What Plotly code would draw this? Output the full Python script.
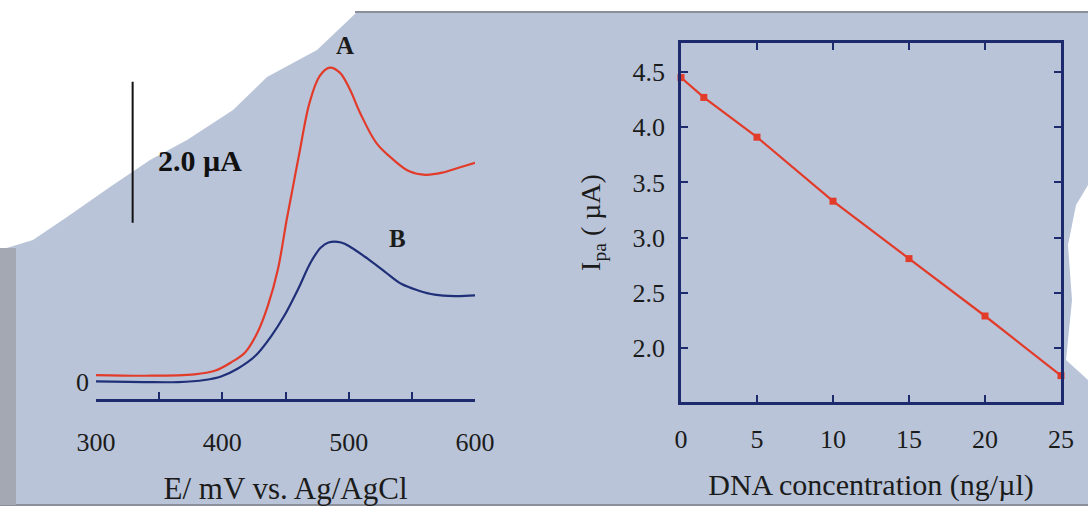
import plotly.graph_objects as go

# ---------------- data ----------------
# Left panel: differential pulse voltammograms
E_A = [300, 340, 378, 394, 407, 418, 428, 436, 444, 451, 456, 461, 469, 477, 485, 493, 501, 509, 522, 535, 548, 561, 574, 587, 600]
I_A = [0.34, 0.33, 0.35, 0.40, 0.52, 0.66, 0.95, 1.32, 1.84, 2.55, 3.02, 3.49, 4.20, 4.58, 4.70, 4.63, 4.39, 4.06, 3.63, 3.40, 3.23, 3.18, 3.21, 3.28, 3.35]
E_B = [300, 338, 365, 386, 399, 412, 426, 439, 449, 460, 470, 478, 484, 494, 502, 515, 529, 542, 555, 568, 584, 600]
I_B = [0.25, 0.24, 0.24, 0.27, 0.32, 0.43, 0.61, 0.90, 1.18, 1.56, 1.94, 2.15, 2.22, 2.22, 2.15, 1.99, 1.80, 1.63, 1.54, 1.48, 1.46, 1.47]

# Right panel: peak current vs DNA concentration
dna_conc = [0, 1.5, 5, 10, 15, 20, 25]
ipa = [4.45, 4.27, 3.91, 3.33, 2.81, 2.29, 1.75]

left_ticks = [300, 400, 500, 600]
right_xticks = [0, 5, 10, 15, 20, 25]

# ---------------- style ----------------
W, H = 1088, 518
FONT = "Liberation Serif"
TXT = "#1b1b1b"
NAVY = "#1d2b6e"
RED = "#e23b2a"
BLUE = "#1f2f78"
BG = "#b9c4d8"


def px(x):
    return x / W


def py(y):
    return 1 - y / H


def path_from(points):
    return "M " + " L ".join(f"{px(a):.4f},{py(b):.4f}" for a, b in points) + " Z"


fig = go.Figure()

fig.add_trace(go.Scatter(x=E_A, y=I_A, mode="lines", line=dict(color=RED, width=2.2, shape="spline"),
                         xaxis="x", yaxis="y", showlegend=False, name="A"))
fig.add_trace(go.Scatter(x=E_B, y=I_B, mode="lines", line=dict(color=BLUE, width=2.2, shape="spline"),
                         xaxis="x", yaxis="y", showlegend=False, name="B"))
fig.add_trace(go.Scatter(x=dna_conc, y=ipa, mode="lines+markers",
                         line=dict(color=RED, width=2.2),
                         marker=dict(color=RED, size=7, symbol="square"),
                         cliponaxis=False,
                         xaxis="x2", yaxis="y2", showlegend=False, name="Ipa"))

# background paper decorations (scan look)
shapes = [
    dict(type="rect", xref="paper", yref="paper", x0=0, x1=1, y0=py(12), y1=1,
         fillcolor="white", line=dict(width=0), layer="below"),
    dict(type="path", xref="paper", yref="paper",
         path=path_from([(0, 0), (360, 0), (357, 12), (317, 50), (267, 77), (233, 110), (187, 140),
                         (150, 160), (110, 187), (67, 217), (33, 240), (0, 250)]),
         fillcolor="white", line=dict(width=0), layer="below"),
    dict(type="rect", xref="paper", yref="paper", x0=0, x1=1, y0=0, y1=py(506),
         fillcolor="white", line=dict(width=0), layer="below"),
    dict(type="line", xref="paper", yref="paper", x0=px(355), x1=1, y0=py(12), y1=py(12),
         line=dict(color="#8a8f99", width=2), layer="below"),
    dict(type="line", xref="paper", yref="paper", x0=0, x1=1, y0=py(505), y1=py(505),
         line=dict(color="#8a8f99", width=2), layer="below"),
    dict(type="rect", xref="paper", yref="paper", x0=0, x1=px(16), y0=py(505), y1=py(248),
         fillcolor="#a3a8b2", line=dict(width=0), layer="below"),
    dict(type="path", xref="paper", yref="paper",
         path=path_from([(1088, 185), (1076, 205), (1068, 245), (1072, 300), (1066, 360), (1088, 380)]),
         fillcolor="white", line=dict(width=0), layer="below"),
    # 2.0 µA scale bar
    dict(type="line", xref="x", yref="y", x0=329, x1=329, y0=2.5, y1=4.5,
         line=dict(color="#111111", width=2)),
]

annotations = [
    dict(text="<b>A</b>", x=497, y=5.02, xref="x", yref="y", showarrow=False,
         font=dict(family=FONT, size=25, color=TXT)),
    dict(text="<b>B</b>", x=539, y=2.28, xref="x", yref="y", showarrow=False,
         font=dict(family=FONT, size=25, color=TXT)),
    dict(text="<b>2.0 µA</b>", x=382, y=3.39, xref="x", yref="y", showarrow=False,
         font=dict(family=FONT, size=30, color="#111111")),
    dict(text="0", x=px(74), y=py(399), xref="paper", yref="paper", showarrow=False,
         font=dict(family=FONT, size=26, color=TXT)),
]

fig.update_layout(
    width=W, height=H,
    margin=dict(l=0, r=0, t=0, b=0, pad=0),
    paper_bgcolor=BG, plot_bgcolor="rgba(0,0,0,0)",
    font=dict(family=FONT, color=TXT, size=26),
    shapes=shapes, annotations=annotations,
    xaxis=dict(domain=[px(96), px(475)], range=[300, 600], anchor="y", automargin=False,
               tickvals=left_ticks, ticks="inside", ticklen=7, tickwidth=2, tickcolor=NAVY,
               minor=dict(dtick=50, tick0=300, ticks="inside", ticklen=7, tickwidth=2, tickcolor=NAVY),
               showline=True, linecolor=NAVY, linewidth=2.5, showgrid=False, zeroline=False,
               ticklabelstandoff=18, tickfont=dict(size=26),
               title=dict(text="E/ mV vs. Ag/AgCl", font=dict(size=31), standoff=22)),
    yaxis=dict(domain=[py(399), py(399 - 5.2 * 70.5)], range=[0, 5.2], anchor="x",
               visible=False, automargin=False),
    xaxis2=dict(domain=[px(681), px(1061)], range=[0, 25], anchor="y2", automargin=False,
                tickvals=right_xticks, ticks="inside", ticklen=7, tickwidth=2, tickcolor=NAVY,
                mirror="ticks", showline=True, linecolor=NAVY, linewidth=2.5,
                showgrid=False, zeroline=False, ticklabelstandoff=12, tickfont=dict(size=26),
                title=dict(text="DNA concentration (ng/µl)", font=dict(size=30), standoff=22)),
    yaxis2=dict(domain=[py(402), py(43)], range=[1.511, 4.763], anchor="x2", automargin=False,
                dtick=0.5, tick0=2.0, tickformat=".1f", ticks="inside", ticklen=7, tickwidth=2,
                tickcolor=NAVY, mirror="ticks", showline=True, linecolor=NAVY, linewidth=2.5,
                showgrid=False, zeroline=False, ticklabelstandoff=8, tickfont=dict(size=26),
                title=dict(text="I<sub>pa</sub> ( µA)", font=dict(size=28), standoff=24)),
)

fig.write_html("out.html", config={"displayModeBar": False},
               post_script="document.body.style.margin='0';")
